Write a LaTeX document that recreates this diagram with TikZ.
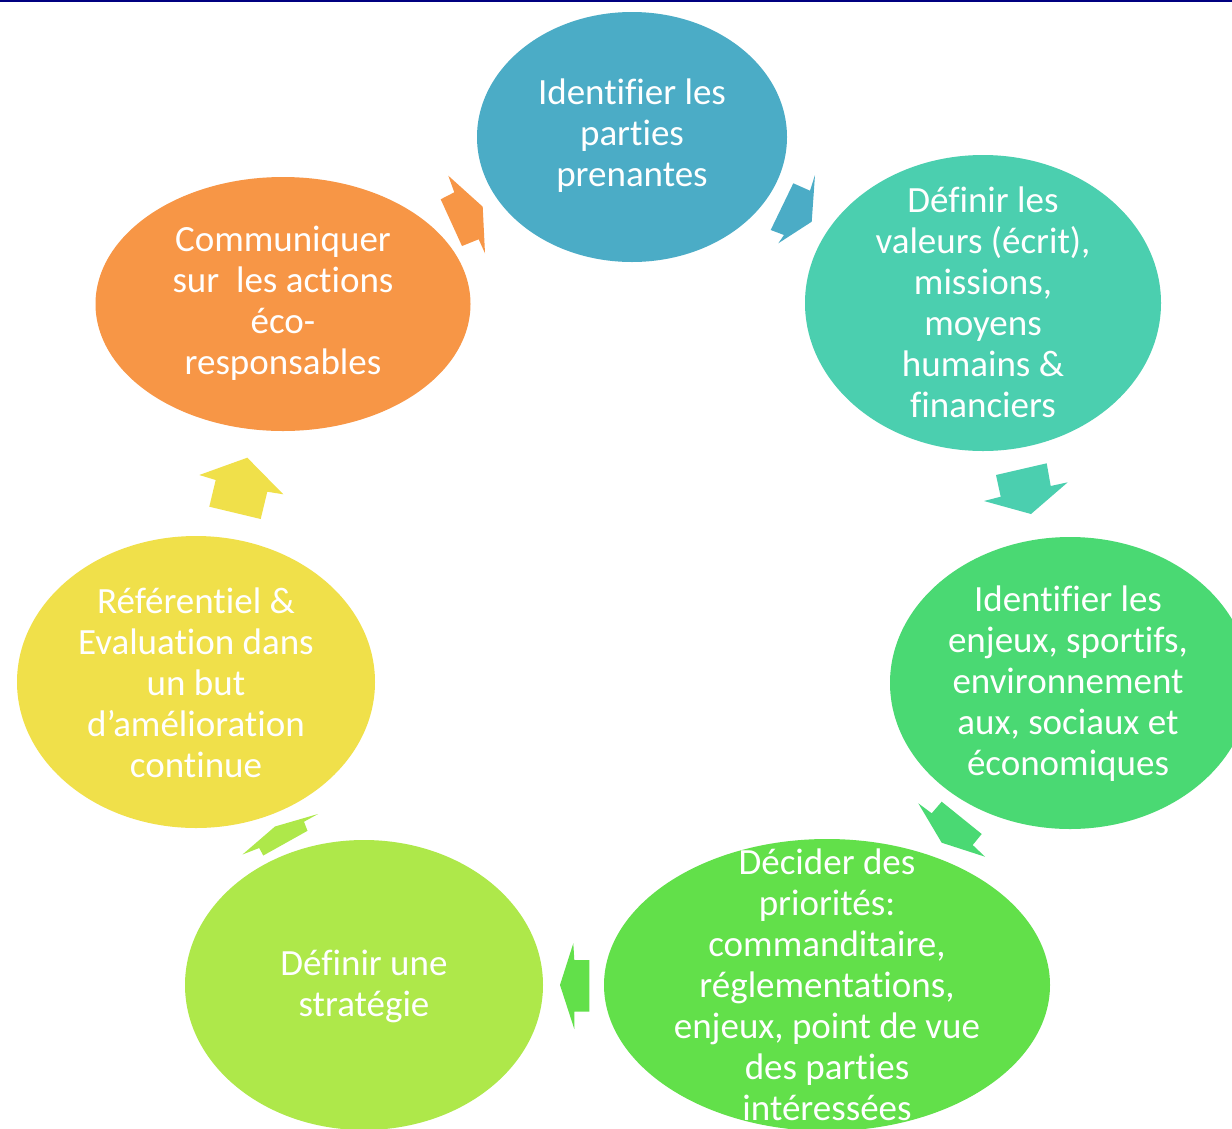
\documentclass[tikz,border=0pt]{standalone}
\usepackage{fontspec}
\setmainfont[Ligatures=CommonOff]{Carlito}
\usetikzlibrary{shapes.geometric}
\definecolor{cBlue}{HTML}{4BACC6}
\definecolor{cTeal}{HTML}{4BCFAF}
\definecolor{cGreen}{HTML}{4AD973}
\definecolor{cBright}{HTML}{62E04A}
\definecolor{cLime}{HTML}{AEE84A}
\definecolor{cYellow}{HTML}{F0E04A}
\definecolor{cOrange}{HTML}{F79646}
\definecolor{cNavy}{HTML}{000080}
\tikzset{
  blob/.style={ellipse, draw=none, inner sep=0pt},
  txt/.style={text=white, align=center, font=\fontsize{37}{41}\selectfont, inner sep=0pt},
  blockarrow/.style={draw=none}
}
\begin{document}
\begin{tikzpicture}[x=1pt,y=-1pt]
\useasboundingbox (0,0) rectangle (1232,1128);
\fill[white] (0,0) rectangle (1232,1128);
% ellipses
\node[blob, fill=cBlue,   minimum width=310, minimum height=250] (e1) at (632,137) {};
\node[blob, fill=cTeal,   minimum width=356, minimum height=296] (e2) at (983,303) {};
\node[blob, fill=cGreen,  minimum width=360, minimum height=292] (e3) at (1070,683) {};
\node[blob, fill=cBright, minimum width=446, minimum height=292] (e4) at (827,985) {};
\node[blob, fill=cLime,   minimum width=358, minimum height=290] (e5) at (364,985) {};
\node[blob, fill=cYellow, minimum width=358, minimum height=292] (e6) at (196,682) {};
\node[blob, fill=cOrange, minimum width=375, minimum height=254] (e7) at (283,304) {};
% texts
\node[txt] (t1) at (632,136) {Identifier les\\parties\\prenantes};
\node[txt] (t2) at (983,302) {Définir les\\valeurs (écrit),\\missions,\\moyens\\humains \&\\financiers};
\node[txt] (t3) at (1068,684) {Identifier les\\enjeux, sportifs,\\environnement\\aux, sociaux et\\économiques};
\node[txt] (t4) at (827,985) {Décider des\\priorités:\\commanditaire,\\réglementations,\\enjeux, point de vue\\des parties\\intéressées};
\node[txt] (t5) at (364,986) {Définir une\\stratégie};
\node[txt] (t6) at (196,683) {Référentiel \&\\Evaluation dans\\un but\\d’amélioration\\continue};
\node[txt] (t7) at (283,303) {Communiquer\\sur\ \ les actions\\éco-\\responsables};
% block arrows
\fill[cOrange] (448.3,175.7) -- (454.3,192.3) -- (440.7,199.3) -- (462,246) -- (478.7,239.3) -- (485,253.3) -- (482.7,206.7) -- cycle;
\fill[cBlue] (793.3,183.3) -- (810,190.7) -- (815,175) -- (811.7,221.7) -- (778.3,243.3) -- (784,235) -- (770.7,230) -- cycle;
\fill[cTeal] (996,475) -- (1046.7,463.3) -- (1050.7,486) -- (1067.7,482.3) -- (1031,514) -- (984,501) -- (1000.7,496.7) -- cycle;
\fill[cGreen] (918.3,803.3) -- (931.7,813.3) -- (941.7,801.7) -- (981.7,834) -- (972.7,845) -- (985,856.7) -- (941.7,842.7) -- cycle;
\fill[cBright] (573.3,943.3) -- (574.3,960) -- (589.3,960) -- (589.3,1011.7) -- (574.3,1011.7) -- (574.3,1029) -- (560,985) -- cycle;
\fill[cLime] (242.5,854.5) -- (275,826.5) -- (318,814) -- (304,821.7) -- (307.5,830.8) -- (263.3,855.5) -- (259.2,848) -- cycle;
\fill[cYellow] (199.3,475) -- (247.3,457.7) -- (283.3,494.3) -- (267.3,491.7) -- (260.7,519) -- (209.3,506.7) -- (215.7,480) -- cycle;
% top rule
\fill[cNavy] (0,0) rectangle (1232,2);
\end{tikzpicture}
\end{document}
